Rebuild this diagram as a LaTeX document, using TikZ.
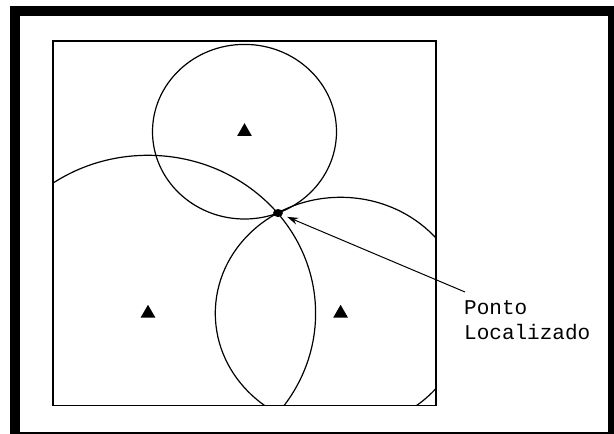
\documentclass[tikz,border=0pt]{standalone}
\usepackage{fontspec}
\newfontfamily\labelfont{Liberation Mono}
\usetikzlibrary{shapes.geometric,arrows.meta}
\begin{document}
\begin{tikzpicture}[x=1pt,y=-1pt,
  thinline/.style={line width=1.3pt},
  station/.style={regular polygon, regular polygon sides=3, fill=black, draw=none, inner sep=0pt, minimum size=17pt},
  ring/.style={line width=1.2pt},
  locdot/.style={ellipse, fill=black, inner sep=0pt, minimum width=10pt, minimum height=8pt},
  lbl/.style={font=\labelfont\fontsize{21}{24.4}\selectfont, align=left, inner sep=0pt, anchor=north west}
]
\useasboundingbox (0,0) rectangle (614,434);
\clip (0,0) rectangle (614,434);
\fill[white] (0,0) rectangle (614,434);
% outer thick frame (cut by image edge on right and bottom)
\draw[line width=10pt] (15,11) rectangle (613,437);
% inner square
\coordinate (bsw) at (53,405.5);
\coordinate (bne) at (436,41);
% stations
\node[station] (top) at (244.5,131.7) {};
\node[station] (bl) at (148,313.3) {};
\node[station] (br) at (340.6,313.3) {};
\begin{scope}
  \clip (bsw) rectangle (bne);
  \draw[ring] (top) ellipse [x radius=92pt, y radius=87.3pt];
  \draw[ring] (bl) ellipse [x radius=167.6pt, y radius=158pt];
  \draw[ring] (br) ellipse [x radius=125.3pt, y radius=116pt];
\end{scope}
\draw[thinline] (bsw) rectangle (bne);
% located point
\node[locdot] (pt) at (278,213) {};
% label
\node[lbl] (label) at (464,300.5) {Ponto\\Localizado};
\coordinate (tail) at (465,292);
\draw[line width=1pt, -{Stealth[length=11pt,width=7pt]}, shorten >=5pt] (tail) -- (pt);
\end{tikzpicture}
\end{document}
